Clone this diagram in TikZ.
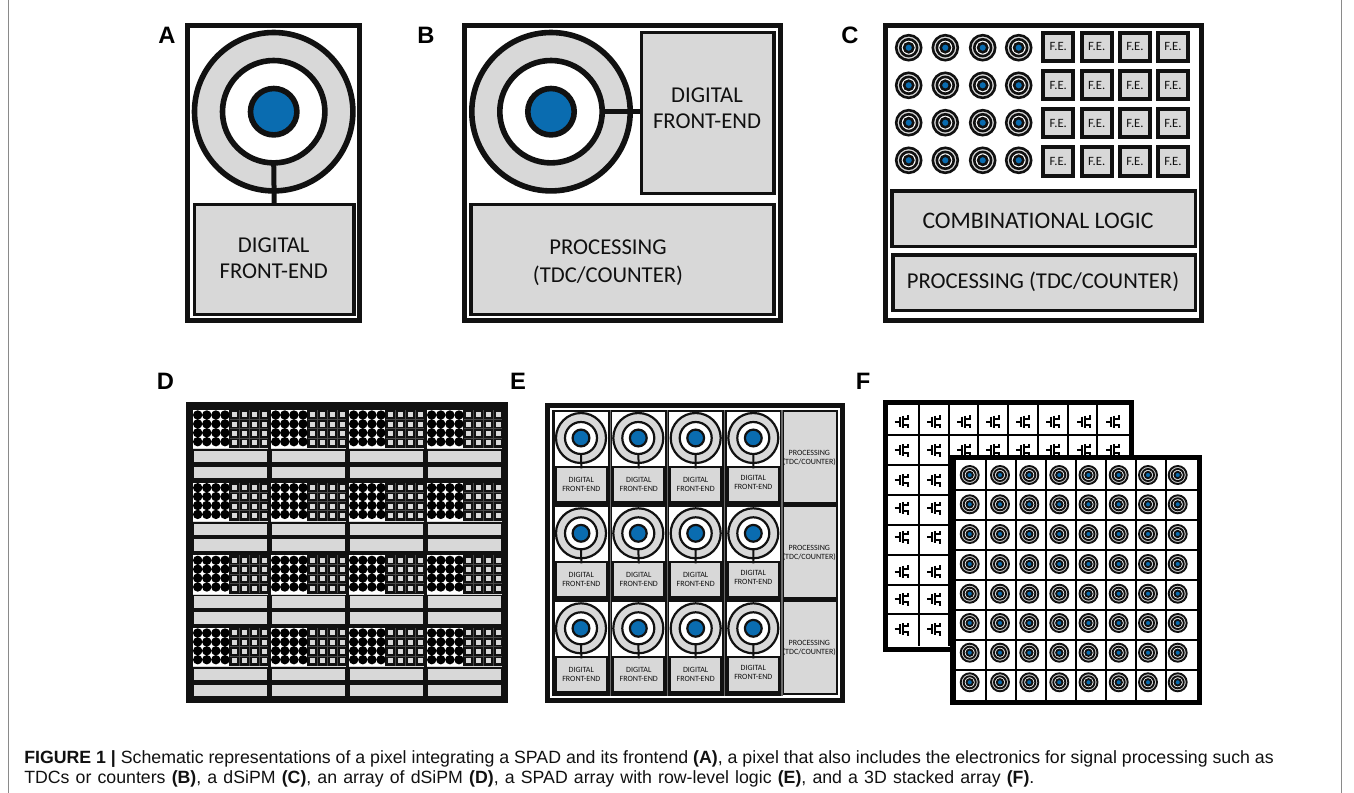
\documentclass[tikz,border=0pt]{standalone}
\usepackage{fontspec}
\setmainfont{Carlito}
\newfontfamily\capfont{Liberation Sans}
\definecolor{fillgray}{HTML}{D8D8D8}
\definecolor{spadblue}{HTML}{0A6CB0}
\definecolor{ink}{HTML}{111111}
\definecolor{edgegray}{HTML}{8A8A8A}
\definecolor{sepgray}{HTML}{6A6A6A}
\definecolor{griddark}{HTML}{484848}
\newcommand{\fsz}[1]{\fontsize{#1}{#1}\selectfont}
\tikzset{
  x=0.75pt,y=-0.75pt,
  panel/.style={draw=ink,fill=white,line width=3.75pt},
  graybox/.style={draw=ink,fill=fillgray,inner sep=0pt,outer sep=0pt},
  ring/.style={circle,draw=ink,inner sep=0pt,outer sep=0pt},
  tag/.style={font=\capfont\bfseries\fsz{17.8},text=black,inner sep=0pt,anchor=center},
  bigtxt/.style={font=\fsz{17},text=ink,inner sep=0pt,align=center},
  fetxt/.style={font=\fsz{9.5},text=ink,inner sep=0pt},
  tinytxt/.style={font=\fsz{6},text=ink,inner sep=0pt,align=center},
  captxt/.style={font=\capfont\fsz{13.3},text=ink,inner sep=0pt,anchor=base west},
  glyph/.style={draw=black,line width=1.6pt},
  wire/.style={draw=ink},
}
% \gbox{name}{x1}{y1}{x2}{y2}{line width px}  stroke-centre rectangle
\newcommand{\gbox}[6]{%
  \node[graybox,line width=#6*0.75pt,minimum width={((#4)-(#2))*0.75pt},minimum height={((#5)-(#3))*0.75pt}]
    (#1) at ({((#2)+(#4))/2},{((#3)+(#5))/2}) {};}
% \spad{name}{x}{y}{r1}{r2}{r3}{line width px}
\newcommand{\spad}[7]{%
  \node[ring,fill=fillgray,line width=#7*0.75pt,minimum size={2*#4*0.75pt}] (#1o) at (#2,#3) {};
  \node[ring,fill=white,line width=#7*0.75pt,minimum size={2*#5*0.75pt}] (#1m) at (#2,#3) {};
  \node[ring,fill=spadblue,line width=#7*0.75pt,minimum size={2*#6*0.75pt}] (#1i) at (#2,#3) {};
}
\newcommand{\fet}[2]{%
  \begin{scope}[shift={(#1,#2)}]
    \draw[glyph] (-7,0) -- (-2,0) (-2,-5) -- (-2,5) (1.2,-6) -- (1.2,6)
      (1.2,-3) -- (6,-3) -- (6,-6.5) (1.2,3) -- (6,3) -- (6,6.5);
  \end{scope}}
\begin{document}
\begin{tikzpicture}
\useasboundingbox (0,0) rectangle (1354,793);
\fill[white] (0,0) rectangle (1354,793);
\draw[edgegray,line width=0.6pt] (8.5,0) -- (8.5,793);
\draw[edgegray,line width=0.6pt] (1341.5,0) -- (1341.5,793);

% ---------- A
\node[tag] (la) at (167,35) {A};
\draw[panel] (187.5,25.5) rectangle (359.5,320.5);
\gbox{afe}{194.5}{204.5}{354}{314.5}{3.5}
\spad{a}{273.7}{111.7}{79.2}{51.2}{23.2}{5.6}
\draw[wire,line width=3.75pt] (am.south) -- (afe.north);
\node[bigtxt] (at1) at (273.7,245) {DIGITAL};
\node[bigtxt] (at2) at (273.7,271.5) {FRONT-END};

% ---------- B
\node[tag] (lb) at (426,35) {B};
\draw[panel] (464.2,25.5) rectangle (780.8,320.5);
\gbox{bfe}{641.7}{32.5}{774}{193.5}{3.5}
\gbox{bpr}{471}{204.5}{774}{314.5}{3.5}
\spad{b}{551}{111.7}{79.2}{51.2}{23.2}{5.6}
\draw[wire,line width=3.75pt] (bm.east) -- (bfe.west |- bm.east);
\node[bigtxt] (bt1) at (707,95) {DIGITAL};
\node[bigtxt] (bt2) at (707,121.5) {FRONT-END};
\node[bigtxt] (bt3) at (608,247) {PROCESSING};
\node[bigtxt] (bt4) at (608,275.5) {(TDC/COUNTER)};

% ---------- C
\node[tag] (lc) at (850,35) {C};
\draw[panel] (885.8,25.8) rectangle (1201.8,320.8);
\foreach \cy [count=\r] in {47.7,85.3,122.7,160.3}{
  \foreach \cx [count=\c] in {908.7,945.3,982.7,1018.7}{
    \spad{cs\r\c}{\cx}{\cy}{12.5}{8.4}{4.6}{2.6}
  }
}
\foreach \fy [count=\r] in {30.7,69,107,145.3}{
  \foreach \fx [count=\c] in {1041.3,1079.7,1118,1156}{
    \gbox{cf\r\c}{\fx+2}{\fy+2}{\fx+32}{\fy+30.2}{4}
    \node[fetxt] (cft\r\c) at (cf\r\c) {F.E.};
  }
}
\gbox{ccl}{892}{191}{1195.3}{246.3}{3.5}
\node[bigtxt,font=\fsz{17.8}] (cclt) at (1038,220.7) {COMBINATIONAL LOGIC};
\gbox{cpr}{893}{255}{1195.3}{310.3}{3.5}
\node[bigtxt] (cprt) at (1043,281.7) {PROCESSING (TDC/COUNTER)};

% ---------- D
\node[tag] (ld) at (165.5,381) {D};
\fill[ink] (186,402.3) rectangle (507.7,703.3);
\foreach \ty [count=\r] in {410,482.7,555.3,628}{
  \foreach \tx [count=\c] in {192.7,270.7,348.7,426.7}{
    \fill[white] (\tx,\ty) rectangle (\tx+36.5,\ty+38.3);
    \fill[fillgray] (\tx,\ty+38.3) rectangle (\tx+75,\ty+39.2);
    \foreach \i in {0,1,2,3}{
      \foreach \j in {0,1,2,3}{
        \fill[black] (\tx+5+\i*9.1,\ty+5+\j*8.9) circle[radius=4.7];
      }
    }
    \draw[griddark,line width=0.4pt] (\tx+46.5,\ty) -- (\tx+46.5,\ty+38) (\tx+56.5,\ty) -- (\tx+56.5,\ty+38) (\tx+66.5,\ty) -- (\tx+66.5,\ty+38)
      (\tx+37,\ty+9.4) -- (\tx+75,\ty+9.4) (\tx+37,\ty+18.7) -- (\tx+75,\ty+18.7) (\tx+37,\ty+28) -- (\tx+75,\ty+28);
    \foreach \i in {0,1,2,3}{
      \foreach \j in {0,1,2,3}{
        \fill[fillgray] (\tx+39+\i*10,\ty+2.3+\j*9.3) rectangle +(5,5);
      }
    }
    \fill[fillgray] (\tx+1.3,\ty+41) rectangle (\tx+74.3,\ty+52.3);
    \fill[fillgray] (\tx+1.3,\ty+56.7) rectangle (\tx+74.3,\ty+68.3);
  }
}

% ---------- E
\node[tag] (le) at (518,381) {E};
\draw[draw=ink,fill=white,line width=3.75pt] (547.5,405.8) rectangle (842.5,700.8);
\fill[ink] (551.7,410) rectangle (781.5,696);
\fill[ink] (781.5,410) rectangle (838.3,695);
\foreach \cx [count=\c] in {555,612.3,669.3,726.7}{
  \draw[sepgray,line width=1pt] (\cx+55.3,410) -- (\cx+55.3,696);
}
\foreach \ry/\tc [count=\r] in {411.7/438,506.7/533.3,601.7/628.3}{
  \foreach \wx/\gx/\gw/\sc/\dy [count=\c] in {555/556.7/49.3/581/0,612.3/614.3/49/638.3/0,669.3/671.3/48.7/695.7/-0.7,726.7/729/48.7/753.3/-2}{
    \fill[white] (\wx,\ry) rectangle (\wx+53,\ry+54.5);
    \node[graybox,draw=none,minimum width={\gw*0.75pt},minimum height={32.7*0.75pt}] (efe\r\c) at ({\gx+\gw/2},\ry+73) {};
    \spad{es\r\c}{\sc}{\tc}{25}{16}{8.4}{2.2}
    \draw[wire,line width=1.5pt] (es\r\c m.south) -- (efe\r\c.north);
    \node[tinytxt] (eft\r\c) at ({\gx+\gw/2},\ry+68.6+\dy) {DIGITAL};
    \node[tinytxt] (efb\r\c) at ({\gx+\gw/2},\ry+77.6+\dy) {FRONT-END};
  }
}
\fill[fillgray] (784,411.7) rectangle (835.7,502.3);
\fill[fillgray] (784,506.7) rectangle (835.7,597.3);
\fill[fillgray] (784,601.7) rectangle (835.7,693.3);
\foreach \py [count=\r] in {453.3,548.3,643.3}{
  \node[tinytxt] (ept\r) at (809.3,\py) {PROCESSING};
  \node[tinytxt] (epb\r) at (809.3,\py+9) {(TDC/COUNTER)};
}

% ---------- F
\node[tag] (lf) at (863,381) {F};
% back layer
\draw[draw=black,fill=white,line width=3.75pt] (885.2,402.5) rectangle (1131.5,649);
\foreach \k in {0,...,6}{ \draw[black,line width=1.5pt] ({919+\k*29.7},405) -- ({919+\k*29.7},646); }
\foreach \gy in {435,465,495,525,555,584.5,614.3}{ \draw[black,line width=1.5pt] (888,\gy) -- (1129,\gy); }
\foreach \gy in {421.7,450,480,508,537,571.7,599,629}{
  \foreach \gx in {901.7,934,964,993,1023,1053,1084,1113}{
    \fet{\gx}{\gy}
  }
}
% front layer
\draw[draw=black,fill=white,line width=4pt] (952.9,457.5) rectangle (1199.5,702.5);
\foreach \k in {1,...,7}{ \draw[black,line width=1.5pt] ({955.5+\k*30.1},459) -- ({955.5+\k*30.1},701); }
\foreach \k in {1,...,7}{ \draw[black,line width=1.5pt] (955,{460+\k*30}) -- (1198,{460+\k*30}); }
\foreach \sy [count=\r] in {475,504.3,534,564,593.7,623,652.7,682.3}{
  \foreach \sx [count=\c] in {969.7,1000,1029.3,1059.3,1088.5,1118.7,1148,1177.7}{
    \spad{fs\r\c}{\sx}{\sy}{9}{6}{3.2}{1.9}
  }
}

% ---------- caption
\node[captxt] (cap1) at (24,763) {\textbf{FIGURE 1 |} Schematic representations of a pixel integrating a SPAD and its frontend \textbf{(A)}, a pixel that also includes the electronics for signal processing such as};
\node[captxt] (cap2) at (24,783) {\spaceskip=4.6pt TDCs or counters \textbf{(B)}, a dSiPM \textbf{(C)}, an array of dSiPM \textbf{(D)}, a SPAD array with row-level logic \textbf{(E)}, and a 3D stacked array \textbf{(F)}.};
\end{tikzpicture}
\end{document}
